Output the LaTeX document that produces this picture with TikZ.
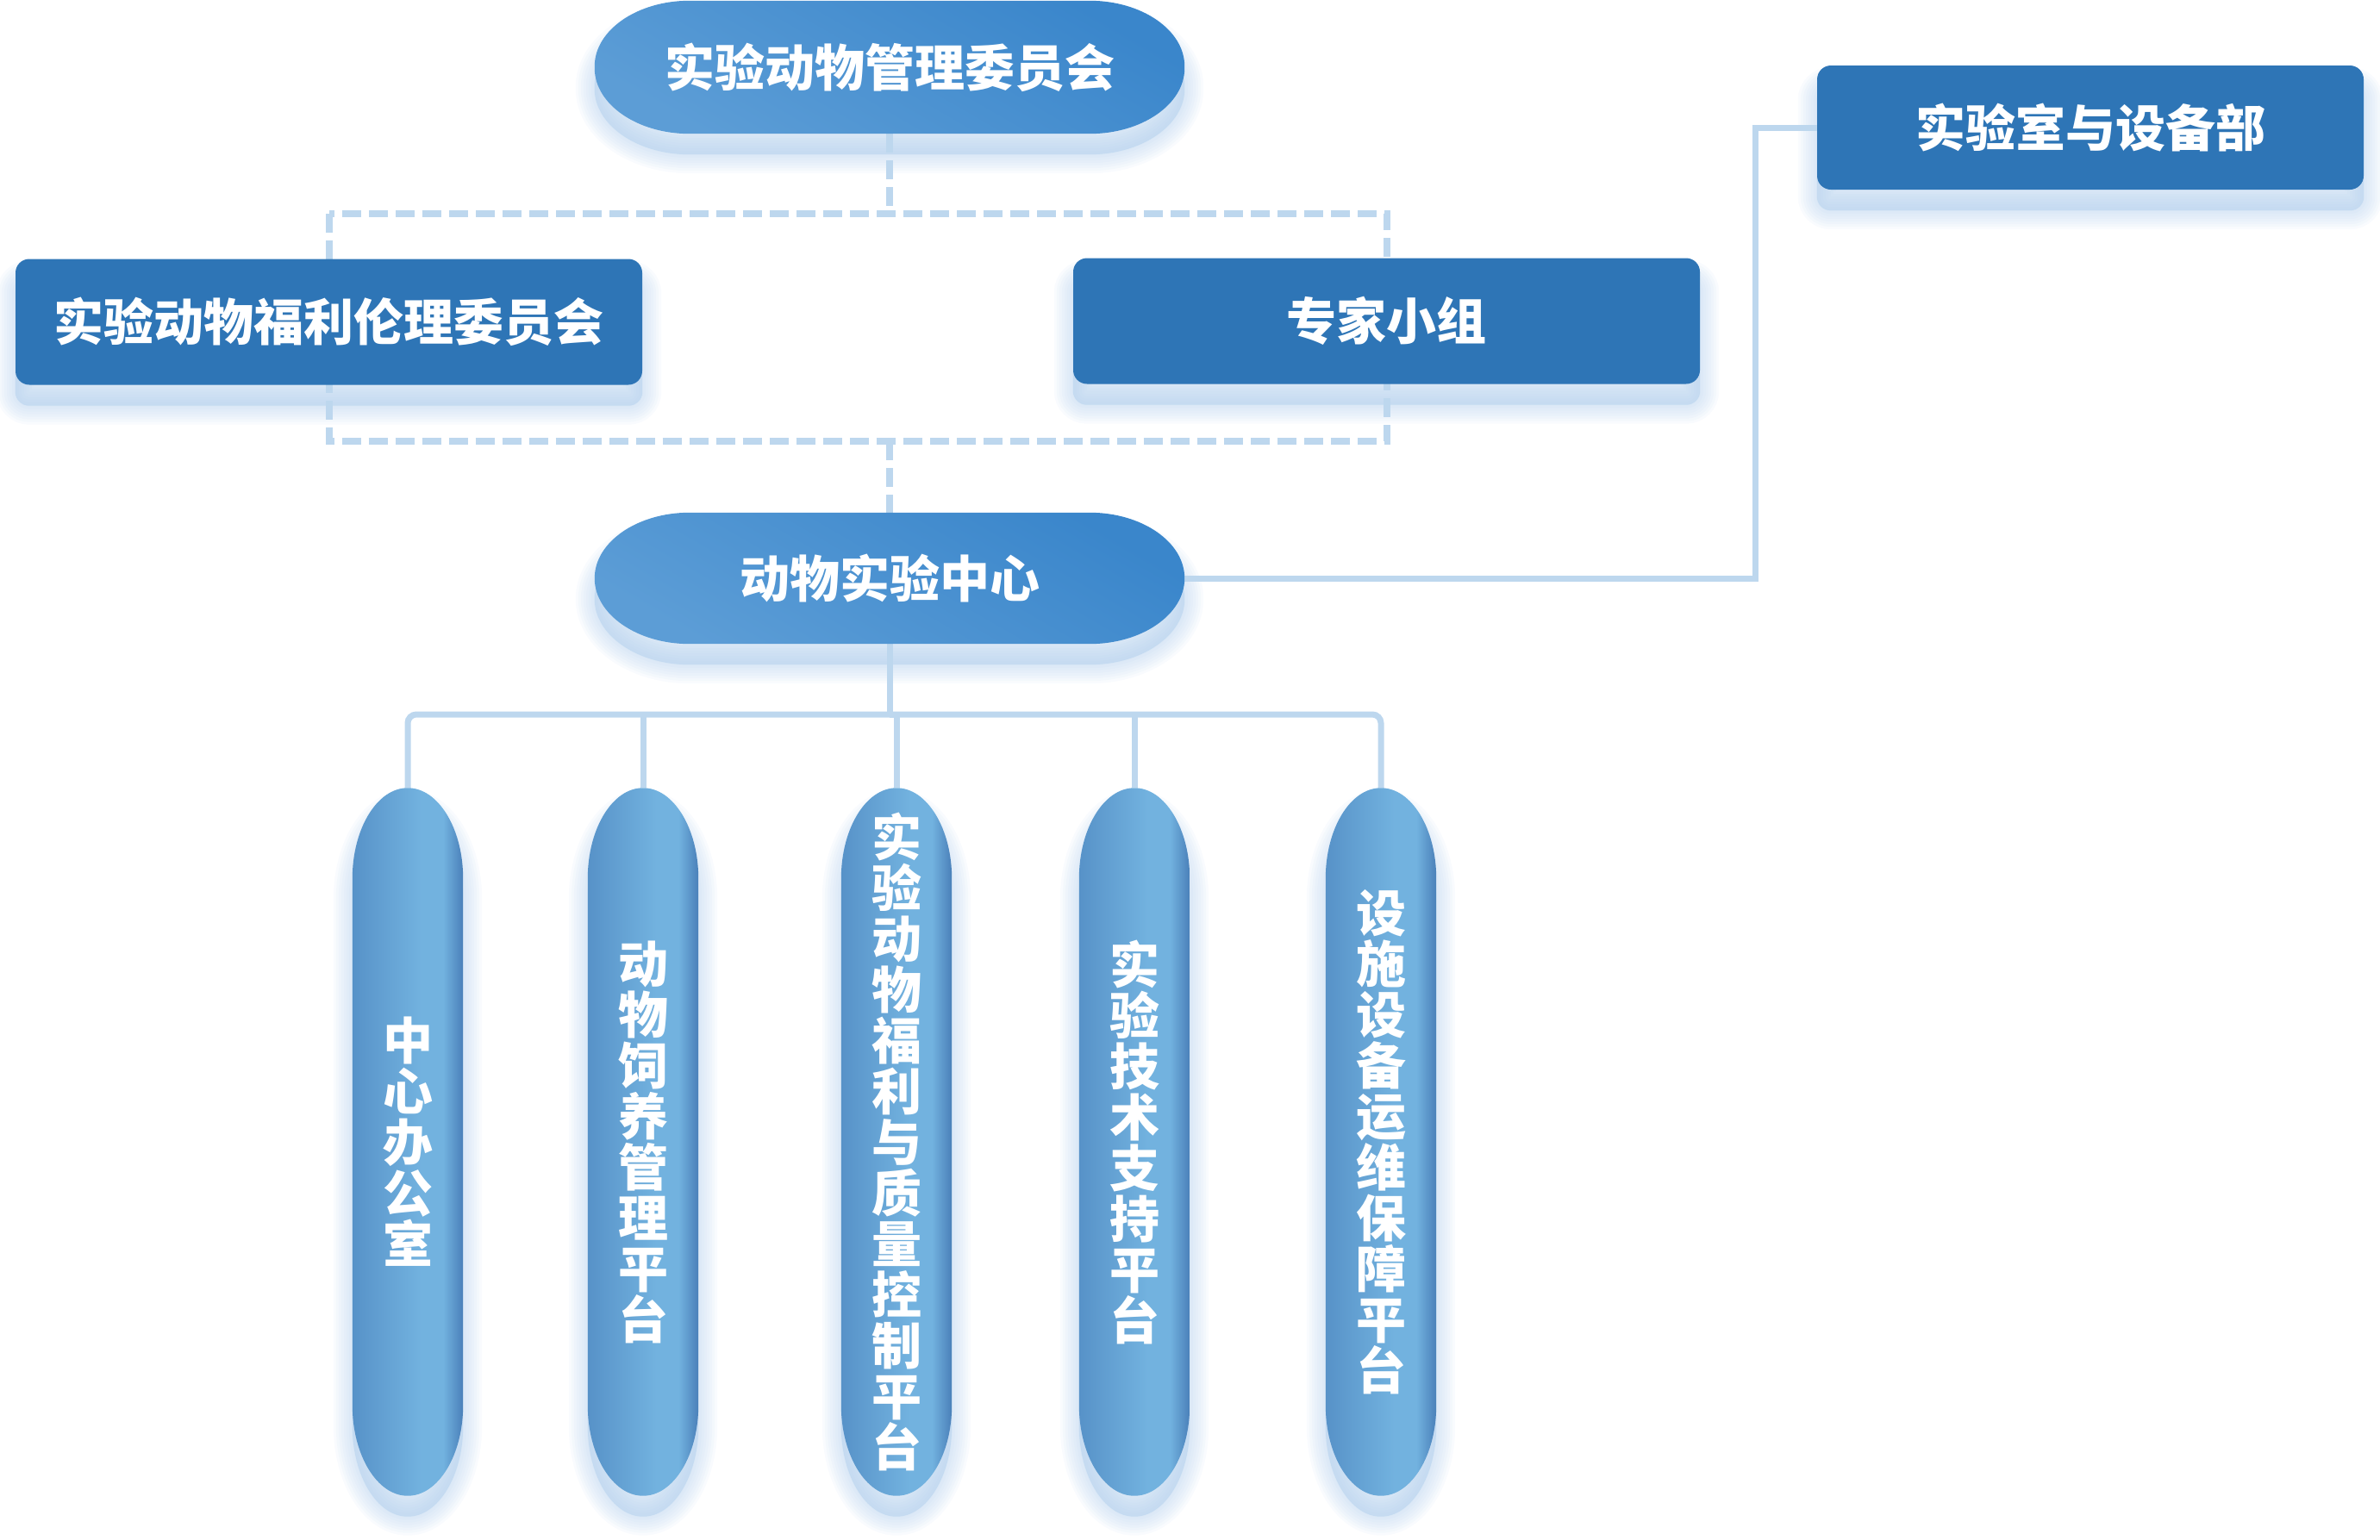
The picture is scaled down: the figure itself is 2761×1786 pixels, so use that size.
\documentclass[tikz,border=0pt]{standalone}
\usepackage{fontspec}
\newfontfamily\cjkfont{Noto Sans CJK SC Black}
\usetikzlibrary{backgrounds}

\definecolor{boxblue}{HTML}{2E75B6}
\definecolor{capdark}{HTML}{3A86CB}
\definecolor{caplight}{HTML}{5C9DD6}
\definecolor{linkblue}{HTML}{BDD7EE}
\definecolor{glowblue}{HTML}{A9C9EA}
\definecolor{pillL}{HTML}{5792C8}
\definecolor{pillM}{HTML}{72B2DF}
\definecolor{pillR}{HTML}{4A80B9}

\pgfdeclarehorizontalshading{pillshade}{100bp}{color(0bp)=(pillL); color(25bp)=(pillL); color(56bp)=(pillM); color(66bp)=(pillM); color(75bp)=(pillR); color(100bp)=(pillR)}

% outline of a node with elliptic ends: #1 node, #2 x radius, #3 y radius
\newcommand\ovalpath[3]{([xshift=#2]#1.north west) -- ([xshift=-#2]#1.north east)
  .. controls ([xshift=-0.45*#2]#1.north east) and ([yshift=-0.45*#3]#1.north east) .. ([yshift=-#3]#1.north east)
  -- ([yshift=#3]#1.south east)
  .. controls ([yshift=0.45*#3]#1.south east) and ([xshift=-0.45*#2]#1.south east) .. ([xshift=-#2]#1.south east)
  -- ([xshift=#2]#1.south west)
  .. controls ([xshift=0.45*#2]#1.south west) and ([yshift=0.45*#3]#1.south west) .. ([yshift=#3]#1.south west)
  -- ([yshift=-#3]#1.north west)
  .. controls ([yshift=-0.45*#3]#1.north west) and ([xshift=0.45*#2]#1.north west) .. cycle}

\begin{document}
\begin{tikzpicture}[x=1pt, y=-1pt,
  every node/.style={font=\cjkfont\fontsize{58}{59}\selectfont, text=white},
  boxnode/.style={rectangle, rounded corners=16pt, fill=boxblue, minimum width=727pt, minimum height=146pt, inner sep=0pt},
  capnode/.style={minimum width=684pt, minimum height=154pt, inner sep=0pt},
  pillnode/.style={minimum width=128pt, minimum height=821pt, inner sep=0pt, align=center},
  link/.style={draw=linkblue, line width=7pt},
  dashlink/.style={draw=linkblue, line width=8pt, dash pattern=on 22pt off 9pt},
  glowlayer/.style={fill=glowblue, draw=glowblue, opacity=0.07},
  capshade/.style={top color=capdark, bottom color=caplight, shading angle=-30}]

\useasboundingbox (0,0) rectangle (2761,1786);

\node[capnode] (top) at (1032,78) {实验动物管理委员会};
\node[boxnode] (ethic) at (381.5,373.5) {实验动物福利伦理委员会};
\node[boxnode] (expert) at (1608.5,372.5) {专家小组};
\node[boxnode, minimum width=634pt, minimum height=144pt] (lab) at (2425,148) {实验室与设备部};
\node[capnode, minimum height=152pt] (mid) at (1032,671) {动物实验中心};

\node[pillnode] (p1) at (473,1325) {中\\心\\办\\公\\室};
\node[pillnode] (p2) at (746,1325) {动\\物\\饲\\养\\管\\理\\平\\台};
\node[pillnode] (p3) at (1040,1325) {实\\验\\动\\物\\福\\利\\与\\质\\量\\控\\制\\平\\台};
\node[pillnode] (p4) at (1316,1325) {实\\验\\技\\术\\支\\持\\平\\台};
\node[pillnode] (p5) at (1602,1325) {设\\施\\设\\备\\运\\维\\保\\障\\平\\台};

\coordinate (dtop) at (1032,248);
\coordinate (dbot) at (1032,512);
\coordinate (bar) at (1032,829);

\begin{scope}[on background layer]
  \begin{scope}[transform canvas={yshift=-24pt}]
    \foreach \w in {44,38,32,26,20,14,8,2} {
      \foreach \n in {ethic,expert,lab}
        \path[glowlayer, line width=\w pt, rounded corners=16pt] (\n.south west) rectangle (\n.north east);
      \foreach \n in {top,mid}
        \path[glowlayer, line width=\w pt] \ovalpath{\n}{110pt}{76pt};
      \foreach \i in {1,...,5}
        \path[glowlayer, line width=\w pt] \ovalpath{p\i}{64pt}{105pt};
    }
  \end{scope}

  \draw[dashlink] (ethic |- dtop) rectangle (expert |- dbot);
  \draw[dashlink] (top.south) -- (dtop);
  \draw[dashlink] (dbot) -- (mid.north);

  \draw[link] (mid.east) -- ++(662,0) |- (lab.west);
  \draw[link] (mid.south) -- (bar);
  \draw[link, rounded corners=10pt] (p1.north) |- (bar) -| (p5.north);
  \draw[link] (bar) -| (p3.north);
  \draw[link] (p2.north) -- (p2.north |- bar);
  \draw[link] (p4.north) -- (p4.north |- bar);

  \shade[capshade] \ovalpath{top}{110pt}{76pt};
  \shade[capshade] \ovalpath{mid}{110pt}{76pt};
  \foreach \i in {1,...,5}
    \shade[shading=pillshade] \ovalpath{p\i}{64pt}{105pt};
\end{scope}

\end{tikzpicture}
\end{document}
